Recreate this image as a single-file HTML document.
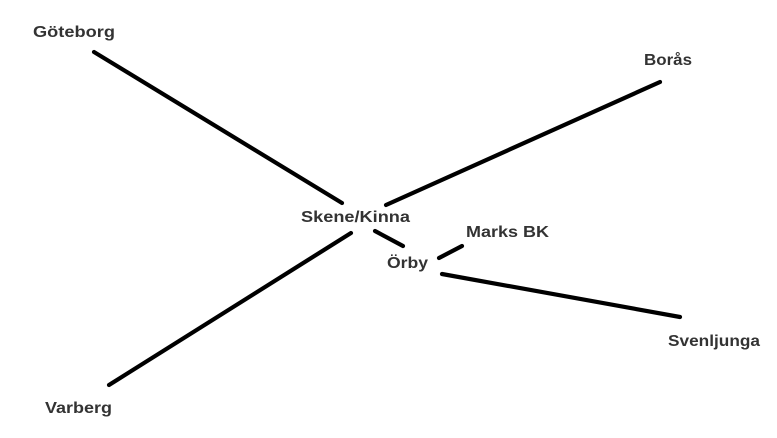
<!DOCTYPE html>
<html><head><meta charset="utf-8"><style>
html,body{margin:0;padding:0;background:#fff;}
svg{display:block;}
text{font-family:"Liberation Sans",Arial,sans-serif;font-weight:bold;font-size:16px;fill:#333;}
</style></head><body>
<svg width="777" height="438" viewBox="0 0 777 438" xmlns="http://www.w3.org/2000/svg">
<rect width="777" height="438" fill="#fff"/>
<g stroke="#000" stroke-width="4.2" stroke-linecap="round" fill="none">
<line x1="94" y1="52" x2="342" y2="203"/>
<line x1="386" y1="205" x2="660" y2="82"/>
<line x1="109" y1="385" x2="351" y2="233"/>
<line x1="375" y1="231" x2="403" y2="246"/>
<line x1="439" y1="258" x2="462" y2="246"/>
<line x1="442" y1="274" x2="680" y2="317"/>
</g>
<text x="33" y="37" textLength="82" lengthAdjust="spacingAndGlyphs">Göteborg</text>
<text x="644" y="65" textLength="48" lengthAdjust="spacingAndGlyphs">Borås</text>
<text x="301" y="222" textLength="109" lengthAdjust="spacingAndGlyphs">Skene/Kinna</text>
<text x="466" y="237" textLength="83" lengthAdjust="spacingAndGlyphs">Marks BK</text>
<text x="387" y="268" textLength="41" lengthAdjust="spacingAndGlyphs">Örby</text>
<text x="668" y="346" textLength="92" lengthAdjust="spacingAndGlyphs">Svenljunga</text>
<text x="45" y="413" textLength="67" lengthAdjust="spacingAndGlyphs">Varberg</text>
</svg>
</body></html>
